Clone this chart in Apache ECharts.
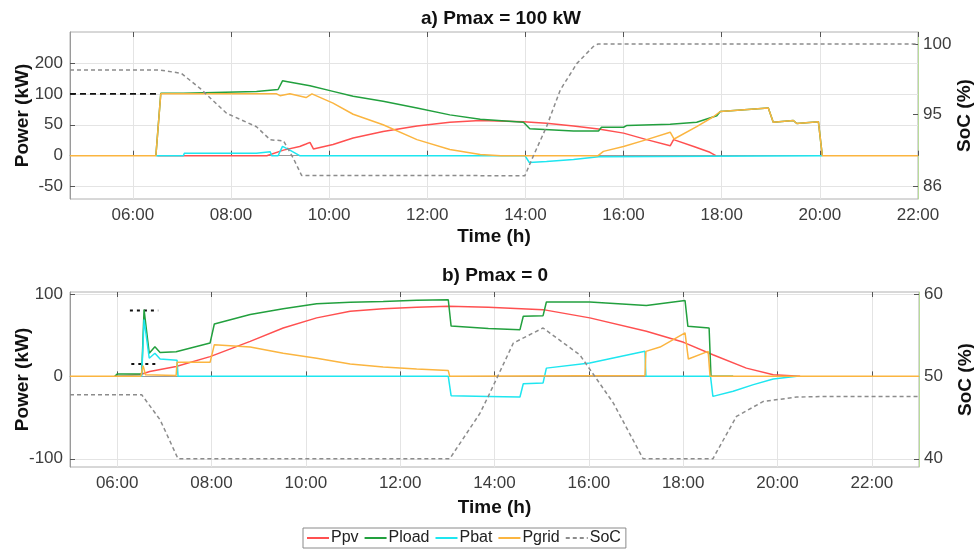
<!DOCTYPE html>
<html>
<head>
<meta charset="utf-8">
<script src="https://cdn.jsdelivr.net/npm/echarts@6/dist/echarts.min.js"></script>
<style>
  html, body { margin: 0; background: #fff; }
  #chart { width: 974px; height: 551px; }
</style>
</head>
<body>
<div id="chart"></div>
<script>
// a) Pmax = 100 kW  -- points are [hour, kW] (SoC in %)
var ppvA = [[6.5,0],[8.73,0],[9.07,9],[9.4,15],[9.53,19],[9.61,21.5],[9.68,11],[10.08,18],[10.49,28.5],[11.1,39],[11.79,48],[12.46,54],[13.08,57],[13.96,55],[14.43,52.5],[14.98,48],[15.49,43],[16.0,36.5],[16.47,26],[16.95,16],[17.02,26],[17.43,15],[17.76,5.5],[17.88,0]]
var ploadA = [[6.47,0],[6.57,101],[7.03,101],[7.05,104],[8.52,104],[8.55,107],[8.96,107],[9.05,121],[9.13,120],[9.61,113],[10.08,104],[10.49,96],[11.1,88],[11.79,77],[12.46,66],[13.08,59],[13.96,54],[14.09,43.5],[14.98,40],[15.49,40],[15.55,46],[16.0,46],[16.07,49],[16.95,51],[17.49,54],[17.9,64.5],[17.97,71.5],[18.95,77],[19.05,54],[19.46,57],[19.53,52],[19.97,55],[20.05,0]]
var pbatA = [[6.47,0],[7.03,0],[7.05,4],[8.52,4],[8.55,6.5],[8.8,6.5],[8.83,0],[8.96,0],[9.05,15],[9.2,9],[9.4,0],[13.99,0],[14.08,-11],[14.43,-9.5],[14.98,-6],[15.49,-1.5],[15.52,0],[20.05,0]]
var pgridA = [[4.72,0],[6.47,0],[6.57,100],[8.93,100],[9.0,97],[9.2,100],[9.53,94],[9.65,100],[10.08,85],[10.49,67],[11.1,50],[11.79,26],[12.46,10],[13.08,2],[13.5,0],[15.48,0],[15.59,7],[16.0,15],[16.47,26],[16.95,38],[17.03,27],[17.49,47],[17.83,63],[17.97,71.5],[18.95,77],[19.05,54],[19.46,57],[19.53,52],[19.97,55],[20.05,0],[22,0]]
var socA = [[4.72,97.45],[6.55,97.45],[6.99,97.12],[7.37,95.65],[7.91,93.2],[8.52,91.88],[8.8,90.6],[9.07,90.5],[9.27,88.8],[9.44,87.1],[13.99,87.08],[14.16,89.0],[14.43,91.88],[14.71,95.49],[15.05,98.1],[15.38,99.74],[15.48,100],[22,100]]
var pmaxA = [[4.72,100],[6.57,100]]

// b) Pmax = 0
var ppvB = [[5.95,0],[6.48,2],[6.69,6],[7.25,12],[7.97,24],[8.82,42.5],[9.52,58.7],[10.23,71],[10.94,79],[11.64,82],[12.35,84],[13.02,85],[13.87,84],[15.03,81],[16.02,71],[17.22,54.7],[18.01,41.3],[18.63,26.3],[19.34,10],[19.91,2],[20.48,0]]
var ploadB = [[5.95,0],[6.0,3],[6.52,3],[6.57,81],[6.68,28],[6.8,36],[6.91,29],[7.25,30],[7.97,40.5],[8.06,63.6],[8.82,75],[9.52,82],[10.23,88],[10.94,90],[11.64,91],[12.35,92.3],[13.02,93],[13.08,61],[13.87,58],[14.54,56.7],[14.61,73],[15.03,73.7],[15.1,90.3],[16.02,90.3],[17.22,86],[18.04,92],[18.1,60.7],[18.55,58.7],[18.59,0],[19.06,0]]
var pbatB = [[6.0,0],[6.52,0],[6.57,69],[6.68,22],[6.8,28],[6.91,21],[7.27,19.5],[7.29,0],[13.02,0],[13.08,-23.5],[13.87,-24.3],[14.54,-25],[14.61,-9],[15.03,-8],[15.1,10],[16.02,16.2],[17.19,30.4],[17.21,0],[18.58,0],[18.63,-24.3],[19.06,-18],[19.49,-10],[19.91,-3.2],[20.41,0]]
var pgridB = [[5,0],[6.5,0],[6.55,13],[6.6,2],[7.25,1],[7.27,17],[7.97,17],[8.06,38.5],[8.82,35.6],[9.52,28],[10.23,22],[10.94,15],[11.64,11.3],[12.35,9],[13.02,7],[13.05,0],[17.19,1],[17.21,30.3],[17.51,35.6],[18.04,52.7],[18.11,21],[18.53,30.3],[18.57,0],[23,0]]
var socB = [[5,47.77],[6.52,47.77],[6.91,44.73],[7.29,40],[13.05,40],[13.69,45.5],[13.87,47.6],[14.4,54.05],[15.03,55.87],[15.81,52.6],[16.52,46.76],[17.15,40],[18.63,40],[19.13,45.14],[19.7,46.96],[20.41,47.49],[21.11,47.57],[23,47.57]]
var pmaxB1 = [[6.27,80],[6.87,80]]
var pmaxB2 = [[6.3,15],[6.81,15]]

// tick labels
var hourTicks = [6,8,10,12,14,16,18,20,22]
var powerTicksA = [-50,0,50,100,150]
var powerLabelsA = ['-50','0','50','100','200']
var socTicksA = [86,93.1,100]
var socLabelsA = ['86','95','100']
var powerTicksB = [-100,0,100]
var socTicksB = [40,50,60]

var colors = { ppv: '#ff5050', pload: '#22a03e', pbat: '#1ee6f0', pgrid: '#fbb540', soc: '#8c8c8c' }
var txt = '#3c3c3c'

function hourFmt(v) {
  return (v < 10 ? '0' : '') + v + ':00'
}

function xAx(gi, min, max, gap) {
  return {
    gridIndex: gi, type: 'value', min: min, max: max,
    name: 'Time (h)', nameLocation: 'middle', nameGap: gap, nameMoveOverlap: false,
    nameTextStyle: { fontWeight: 'bold', fontSize: 19, color: '#111' },
    axisLine: { lineStyle: { color: '#9a9a9a' } },
    axisTick: { customValues: hourTicks, inside: true, length: 5, lineStyle: { color: '#555' } },
    axisLabel: { customValues: hourTicks, formatter: hourFmt, fontSize: 17, color: txt, margin: 8 },
    splitLine: { show: true, lineStyle: { color: '#e4e4e4' } }
  }
}
function xTop(gi, min, max) {
  return {
    gridIndex: gi, type: 'value', min: min, max: max, position: 'top',
    axisLine: { show: false },
    axisTick: { customValues: hourTicks, inside: true, length: 5, lineStyle: { color: '#555' } },
    axisLabel: { show: false },
    splitLine: { show: false }
  }
}
function yAx(gi, min, max, side, ticks, labels) {
  var left = side === 'left'
  return {
    gridIndex: gi, type: 'value', min: min, max: max, position: side,
    name: left ? 'Power (kW)' : 'SoC (%)', nameLocation: 'middle', nameRotate: 90,
    nameGap: left ? 38 : 37, nameMoveOverlap: false,
    nameTextStyle: { fontWeight: 'bold', fontSize: 19, color: '#111' },
    axisLine: { show: true, lineStyle: { color: left ? '#9a9a9a' : '#b9dc9a' } },
    axisTick: { customValues: ticks, inside: true, length: 5, lineStyle: { color: '#555' } },
    axisLabel: { customValues: ticks, fontSize: 17, color: txt, margin: left ? 7 : 5,
      formatter: function(v) { return labels ? labels[ticks.indexOf(v)] : String(v) } },
    splitLine: { show: left, lineStyle: { color: '#e4e4e4' } }
  }
}

function line(name, xi, yi, data, color, dash, width) {
  return {
    name: name, type: 'line', xAxisIndex: xi, yAxisIndex: yi,
    data: data, symbol: 'none', showSymbol: false,
    lineStyle: { color: color, width: width || 1.5, type: dash || 'solid' },
    itemStyle: { color: color },
    emphasis: { disabled: true }
  }
}

var myChart = echarts.init(document.getElementById('chart'))
myChart.setOption({
  animation: false,
  textStyle: { fontFamily: 'Liberation Sans, Arial, sans-serif' },
  title: [
    { text: 'a) Pmax = 100 kW', left: 501, top: 9, textAlign: 'center', padding: 0,
      textStyle: { fontSize: 19, fontWeight: 'bold', color: '#111' } },
    { text: 'b) Pmax = 0', left: 495, top: 266, textAlign: 'center', padding: 0,
      textStyle: { fontSize: 19, fontWeight: 'bold', color: '#111' } }
  ],
  legend: {
    data: ['Ppv', 'Pload', 'Pbat', 'Pgrid', 'SoC'],
    left: 303, top: 528, itemWidth: 22, itemGap: 5,
    padding: [2, 5, 2, 3],
    borderColor: '#8a8a8a', borderWidth: 1,
    itemStyle: { opacity: 0 },
    textStyle: { fontSize: 16, color: '#222', padding: [0, 0, 0, -3] }
  },
  grid: [
    { left: 70, top: 32, width: 848, height: 167, show: true, borderColor: '#b0b0b0', borderWidth: 1,
      outerBoundsMode: 'none', containLabel: false },
    { left: 70, top: 292, width: 849, height: 175, show: true, borderColor: '#b0b0b0', borderWidth: 1,
      outerBoundsMode: 'none', containLabel: false }
  ],
  xAxis: [xAx(0, 4.72, 22, 28), xAx(1, 5, 23, 31), xTop(0, 4.72, 22), xTop(1, 5, 23)],
  yAxis: [
    yAx(0, -70, 200, 'left', powerTicksA, powerLabelsA),
    yAx(0, 84.79, 101.18, 'right', socTicksA, socLabelsA),
    yAx(1, -110, 102.4, 'left', powerTicksB),
    yAx(1, 39, 60.24, 'right', socTicksB)
  ],
  series: [
    line('Pmax', 0, 0, pmaxA, '#111', [6, 4], 1.6),
    line('Ppv', 0, 0, ppvA, colors.ppv),
    line('Pload', 0, 0, ploadA, colors.pload),
    line('Pbat', 0, 0, pbatA, colors.pbat),
    line('Pgrid', 0, 0, pgridA, colors.pgrid),
    line('SoC', 0, 1, socA, colors.soc, [4, 3], 1.5),
    line('Pmax', 1, 2, pmaxB1, '#111', [3, 4], 2),
    line('Pmax', 1, 2, pmaxB2, '#111', [3, 4], 2),
    line('Ppv', 1, 2, ppvB, colors.ppv),
    line('Pload', 1, 2, ploadB, colors.pload),
    line('Pbat', 1, 2, pbatB, colors.pbat),
    line('Pgrid', 1, 2, pgridB, colors.pgrid),
    line('SoC', 1, 3, socB, colors.soc, [4, 3], 1.5)
  ]
})
</script>
</body>
</html>
